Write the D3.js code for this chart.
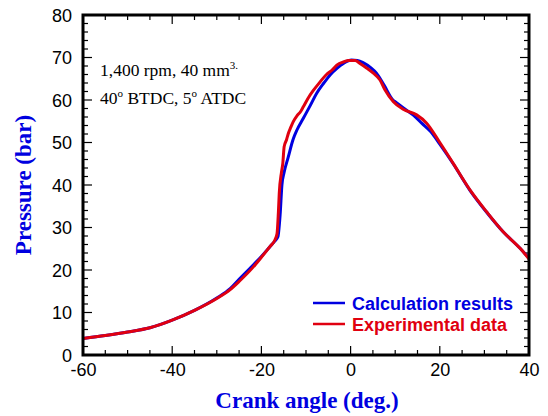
<!DOCTYPE html>
<html>
<head>
<meta charset="utf-8">
<script src="https://cdn.jsdelivr.net/npm/d3@7"></script>
<style>
  body { margin: 0; background: #fff; }
  svg { display: block; }
</style>
</head>
<body>
<svg id="chart" width="548" height="416"></svg>
<script>
// crank angle (deg.) / pressure (bar)
const calcAngle = [-60, -55, -50, -45, -40, -35, -30, -27, -25, -22, -20, -18, -17, -16.3, -15.8, -15.4, -14.9, -14, -12.9, -12, -10.6, -9, -7.6, -6, -4.6, -3, -1.6, 0.2, 1.5, 2.8, 4.5, 5.8, 7.5, 9.5, 10, 12, 14, 16, 18, 20, 23, 26.8, 30.5, 34.2, 38, 40]
const calcPressure = [3.9, 4.6, 5.4, 6.4, 8.2, 10.5, 13.4, 15.6, 17.8, 21.0, 23.2, 25.6, 26.8, 27.8, 33, 40, 43, 46.5, 50.7, 53, 55.7, 58.8, 61.6, 64, 65.9, 67.5, 68.6, 69.4, 69.3, 68.8, 67.6, 66.3, 63.5, 60.0, 59.6, 58.0, 56.5, 54.5, 52.5, 49.6, 45, 38.7, 33.6, 29, 25.1, 22.8]

const expAngle = [-60, -55, -50, -45, -40, -35, -30, -27, -25, -22, -20, -18, -17, -16.5, -16.2, -16, -15.5, -15.2, -14.9, -14.35, -14, -13.4, -12.85, -12, -11.2, -10.6, -9.6, -8.4, -7.2, -5.4, -4.2, -3.1, -1.5, -0.5, 1, 2.1, 3.5, 5.1, 6.6, 7.7, 9.6, 11.8, 14.8, 17, 20, 23, 26.8, 30.5, 34.2, 38, 40]
const expPressure = [3.9, 4.6, 5.4, 6.4, 8.2, 10.5, 13.3, 15.4, 17.3, 20.5, 23.0, 25.6, 27.0, 28.5, 33.4, 38, 43, 45.1, 49, 50.7, 52, 53.6, 54.9, 56.3, 57.3, 58.4, 60.3, 62.2, 63.8, 66.0, 67.0, 68.2, 69.0, 69.3, 69.3, 68.6, 67.6, 66.3, 64.7, 62.4, 59.6, 57.8, 56.5, 54.6, 50.0, 45.1, 38.8, 33.7, 29.0, 25.1, 22.6]

const xTicks = [-60, -40, -20, 0, 20, 40]
const yTicks = [0, 10, 20, 30, 40, 50, 60, 70, 80]

const legendNames = ['Calculation results', 'Experimental data']
const seriesColors = ['#0000e0', '#e00010']

const svg = d3.select('#chart')
const margin = { left: 83, top: 15, right: 19, bottom: 61 }
const width = +svg.attr('width') - margin.left - margin.right
const height = +svg.attr('height') - margin.top - margin.bottom

const x = d3.scaleLinear().domain([-60, 40]).range([0, width])
const y = d3.scaleLinear().domain([0, 80]).range([height, 0])

const g = svg.append('g').attr('transform', `translate(${margin.left},${margin.top})`)

// minor + major ticks on all four sides, pointing inward
const xMinor = d3.range(-60, 40.1, 5)
const yMinor = d3.range(0, 80.1, 2)
const tickG = g.append('g').attr('stroke', '#000').attr('stroke-width', 1.2)
xMinor.forEach(v => {
  const len = v % 20 === 0 ? 9 : 5
  tickG.append('line').attr('x1', x(v)).attr('x2', x(v)).attr('y1', height).attr('y2', height - len)
  tickG.append('line').attr('x1', x(v)).attr('x2', x(v)).attr('y1', 0).attr('y2', len)
})
yMinor.forEach(v => {
  const len = v % 10 === 0 ? 9 : 5
  tickG.append('line').attr('y1', y(v)).attr('y2', y(v)).attr('x1', 0).attr('x2', len)
  tickG.append('line').attr('y1', y(v)).attr('y2', y(v)).attr('x1', width).attr('x2', width - len)
})

// tick labels through d3 axes (plain hyphen for negatives)
const xAxis = g.append('g')
  .attr('transform', `translate(0,${height})`)
  .call(d3.axisBottom(x).tickValues(xTicks).tickFormat(d => String(d)).tickSize(0).tickPadding(8))
const yAxis = g.append('g')
  .call(d3.axisLeft(y).tickValues(yTicks).tickFormat(d => String(d)).tickSize(0).tickPadding(11))
;[xAxis, yAxis].forEach(a => {
  a.select('.domain').remove()
  a.selectAll('text')
    .attr('fill', '#000')
    .style('font-family', 'Liberation Sans, Arial, sans-serif')
    .style('font-size', '18px')
})
yAxis.selectAll('text').attr('dy', '0.36em')

// curves
const line = d3.line().x(d => x(d[0])).y(d => y(d[1])).curve(d3.curveMonotoneX)
const calc = calcAngle.map((a, i) => [a, calcPressure[i]])
const exp = expAngle.map((a, i) => [a, expPressure[i]])

g.append('path').datum(calc)
  .attr('d', line).attr('fill', 'none')
  .attr('stroke', seriesColors[0]).attr('stroke-width', 3)
  .attr('stroke-linejoin', 'round')
g.append('path').datum(exp)
  .attr('d', line).attr('fill', 'none')
  .attr('stroke', seriesColors[1]).attr('stroke-width', 3)
  .attr('stroke-linejoin', 'round')

// frame
g.append('rect')
  .attr('width', width).attr('height', height)
  .attr('fill', 'none').attr('stroke', '#000').attr('stroke-width', 3)

// legend
const leg = g.append('g').attr('transform', `translate(${313 - margin.left},${303 - margin.top})`)
legendNames.forEach((name, i) => {
  leg.append('line')
    .attr('x1', 0).attr('x2', 32).attr('y1', i * 21).attr('y2', i * 21)
    .attr('stroke', seriesColors[i]).attr('stroke-width', 2.5)
  leg.append('text')
    .attr('x', 39).attr('y', i * 21 + 6.5)
    .attr('fill', seriesColors[i])
    .style('font-family', 'Liberation Sans, Arial, sans-serif')
    .style('font-weight', 'bold')
    .style('font-size', '18px')
    .text(name)
})

// annotation
const note = svg.append('g')
  .style('font-family', 'Liberation Serif, Times New Roman, serif')
  .style('font-size', '17.5px')
  .attr('fill', '#000')
const l1 = note.append('text').attr('x', 100).attr('y', 76)
l1.append('tspan').text('1,400 rpm, 40 mm')
l1.append('tspan').attr('dy', -7).style('font-size', '11px').text('3.')
const l2 = note.append('text').attr('x', 100).attr('y', 104)
l2.append('tspan').text('40')
l2.append('tspan').attr('dy', -7).style('font-size', '11px').text('o')
l2.append('tspan').attr('dy', 7).text(' BTDC, 5')
l2.append('tspan').attr('dy', -7).style('font-size', '11px').text('o')
l2.append('tspan').attr('dy', 7).text(' ATDC')

// axis titles
svg.append('text')
  .attr('x', margin.left + width / 2 + 1).attr('y', 408)
  .attr('text-anchor', 'middle')
  .attr('fill', '#0000e0')
  .style('font-family', 'Liberation Serif, Times New Roman, serif')
  .style('font-weight', 'bold')
  .style('font-size', '23px')
  .text('Crank angle (deg.)')

svg.append('text')
  .attr('transform', `translate(31,${margin.top + height / 2}) rotate(-90)`)
  .attr('text-anchor', 'middle')
  .attr('fill', '#0000e0')
  .style('font-family', 'Liberation Serif, Times New Roman, serif')
  .style('font-weight', 'bold')
  .style('font-size', '23px')
  .text('Pressure (bar)')
</script>
</body>
</html>
